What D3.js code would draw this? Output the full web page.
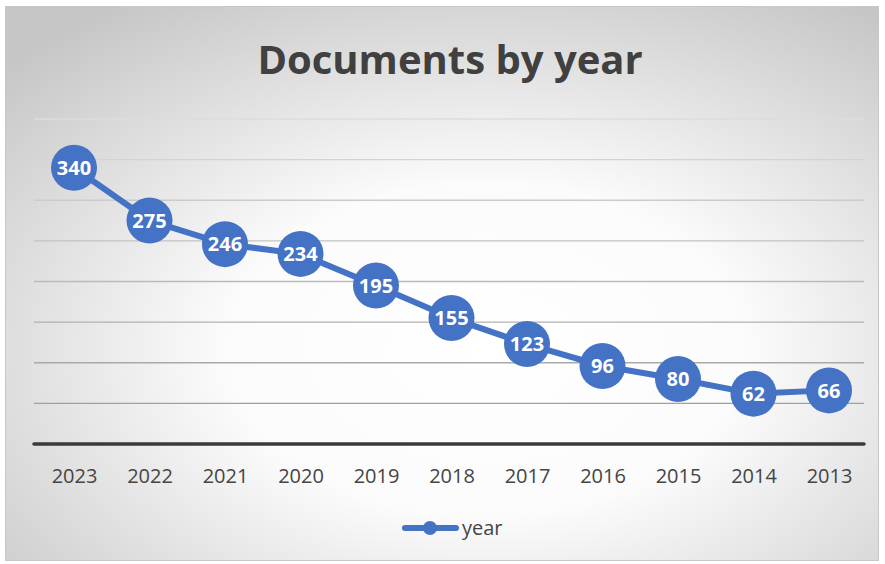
<!DOCTYPE html>
<html>
<head>
<meta charset="utf-8">
<script src="https://cdn.jsdelivr.net/npm/d3@7"></script>
<style>
  body { margin: 0; background: #fff; }
  svg { display: block; }
</style>
</head>
<body>
<svg id="chart" width="885" height="564"></svg>
<script>
// chart data
var years = ["2023","2022","2021","2020","2019","2018","2017","2016","2015","2014","2013"];
var docs = [340, 275, 246, 234, 195, 155, 123, 96, 80, 62, 66];
var yTicks = [50, 100, 150, 200, 250, 300, 350, 400];
var seriesName = "year";
var chartTitle = "Documents by year";

var blue = "#4472c4";
var svg = d3.select("svg#chart");

// background panel with radial gradient
var defs = svg.append("defs");
var grad = defs.append("radialGradient").attr("id", "bg")
    .attr("cx", "55%").attr("cy", "62%").attr("r", "75%");
grad.append("stop").attr("offset", "0%").attr("stop-color", "#ffffff");
grad.append("stop").attr("offset", "40%").attr("stop-color", "#fbfbfb");
grad.append("stop").attr("offset", "100%").attr("stop-color", "#c6c6c6");

svg.append("rect")
    .attr("x", 5.5).attr("y", 6.5).attr("width", 873).attr("height", 554)
    .attr("fill", "url(#bg)")
    .attr("stroke", "#c8c8c8").attr("stroke-width", 1);

// scales
var x = d3.scalePoint().domain(years).range([74, 829]);
var y = d3.scaleLinear().domain([0, 400]).range([444, 119]);

var plotLeft = 34, plotRight = 864;

// gridlines, lighter near the top
var gridColor = d3.scaleLinear().domain([50, 400]).range(["#a0a0a0", "#dcdcdc"]);
svg.append("g").selectAll("line")
  .data(yTicks)
  .join("line")
    .attr("x1", plotLeft).attr("x2", plotRight)
    .attr("y1", function(d) { return y(d); })
    .attr("y2", function(d) { return y(d); })
    .attr("stroke", function(d) { return gridColor(d); })
    .attr("stroke-width", 1.3);

// x axis
var xAxis = d3.axisBottom(x).tickSize(0).tickPadding(25);
var gx = svg.append("g").attr("transform", "translate(0," + y(0) + ")").call(xAxis);
gx.select(".domain").remove();
gx.append("line")
    .attr("x1", plotLeft).attr("x2", plotRight)
    .attr("stroke", "#3a3a3a").attr("stroke-width", 3.5)
    .attr("stroke-linecap", "round");
gx.selectAll(".tick text")
    .attr("fill", "#454545")
    .style("font-family", "'Open Sans', sans-serif")
    .style("font-size", "20px");

// title
svg.append("text")
    .attr("x", 450).attr("y", 74)
    .attr("text-anchor", "middle")
    .attr("fill", "#404040")
    .style("font-family", "'Open Sans', sans-serif")
    .style("font-weight", "bold")
    .style("font-size", "40px")
    .text(chartTitle);

// series line
var line = d3.line()
    .x(function(d, i) { return x(years[i]); })
    .y(function(d) { return y(d); });

svg.append("path")
    .datum(docs)
    .attr("d", line)
    .attr("fill", "none")
    .attr("stroke", blue)
    .attr("stroke-width", 6)
    .attr("stroke-linejoin", "round");

var pts = svg.append("g").selectAll("g")
  .data(docs)
  .join("g")
    .attr("transform", function(d, i) { return "translate(" + x(years[i]) + "," + y(d) + ")"; });

pts.append("circle").attr("r", 23).attr("fill", blue);
pts.append("text")
    .attr("text-anchor", "middle")
    .attr("dy", "0.36em")
    .attr("fill", "#fff")
    .style("font-family", "'Open Sans', sans-serif")
    .style("font-weight", "bold")
    .style("font-size", "20px")
    .text(function(d) { return d; });

// legend
var leg = svg.append("g").attr("transform", "translate(0,528)");
leg.append("line")
    .attr("x1", 405).attr("x2", 456)
    .attr("stroke", blue).attr("stroke-width", 6)
    .attr("stroke-linecap", "round");
leg.append("circle").attr("cx", 430).attr("r", 7).attr("fill", blue);
leg.append("text")
    .attr("x", 462).attr("dy", "0.36em")
    .attr("fill", "#454545")
    .style("font-family", "'Open Sans', sans-serif")
    .style("font-size", "20px")
    .text(seriesName);
</script>
</body>
</html>
